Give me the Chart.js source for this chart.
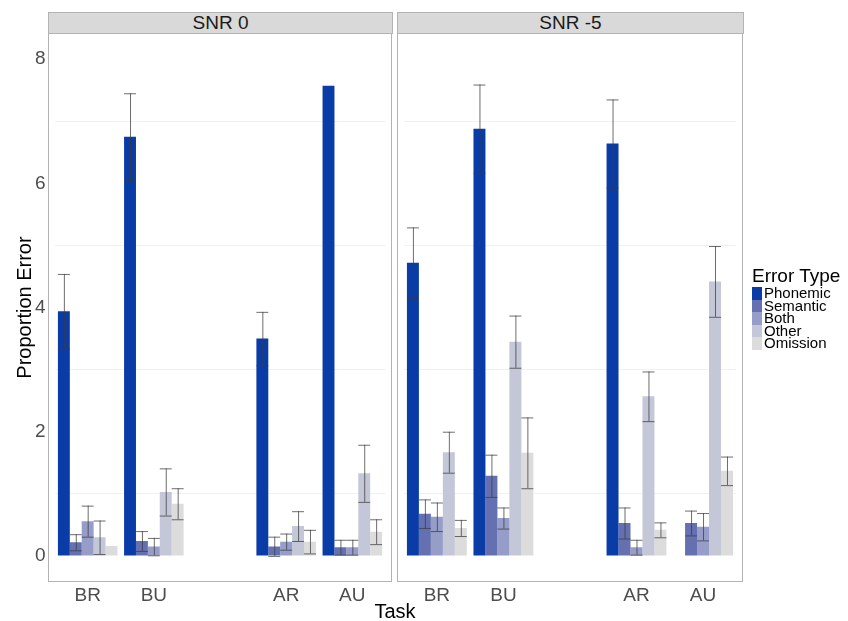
<!DOCTYPE html>
<html lang="en">
<head>
<meta charset="UTF-8">
<title>Proportion Error by Task</title>
<script src="https://cdn.jsdelivr.net/npm/chart.js"></script>
<style>
    body { margin: 0; background: #fff; font-family: "Liberation Sans", Arial, sans-serif; }
    #wrap { position: relative; width: 848px; height: 621px; overflow: hidden; }
    canvas { position: absolute; top: 0; }
    .strip {
        position: absolute; top: 12px; height: 20px; line-height: 20px;
        background: #d9d9d9; border: 1px solid #b3b3b3; box-sizing: content-box;
        text-align: center; font-size: 19px; color: #1a1a1a;
    }
    #xtitle { position: absolute; top: 600px; left: 345px; width: 100px; text-align: center; font-size: 20px; color: #000; }
    #legend { position: absolute; left: 752px; top: 265px; }
    #legend .title { font-size: 19px; line-height: 22px; color: #000; }
    #legend .item { height: 12.6px; line-height: 12.6px; font-size: 15px; color: #000; white-space: nowrap; }
    #legend .box { display: inline-block; width: 10px; height: 12.6px; vertical-align: top; margin-right: 2px; }
</style>
</head>
<body>
<div id="wrap">
    <canvas id="left" width="400" height="621" style="left:0px"></canvas>
    <canvas id="right" width="400" height="621" style="left:395px"></canvas>
    <div class="strip" id="s0" style="left:48px; width:343px;">SNR 0</div>
    <div class="strip" id="s5" style="left:397px; width:345px;">SNR -5</div>
    <div id="xtitle">Task</div>
    <div id="legend"></div>
</div>
<script>
// data
const tasks = ['BR', 'BU', '', 'AR', 'AU'];
const errorTypes = ['Phonemic', 'Semantic', 'Both', 'Other', 'Omission'];
const colors = ['#0a3ca8', '#6570b0', '#969dc9', '#c4c7d8', '#dcdcdc'];
const yTicks = [0, 2, 4, 6, 8];

// SNR 0
const phonemic0 = [3.94, 6.75, null, 3.50, 7.57];
const semantic0 = [0.22, 0.24, null, 0.15, 0.14];
const both0     = [0.56, 0.15, null, 0.23, 0.14];
const other0    = [0.30, 1.03, null, 0.48, 1.33];
const omission0 = [0.16, 0.84, null, 0.23, 0.39];
const phonemicSe0 = [0.60, 0.70, null, 0.43, 0];
const semanticSe0 = [0.13, 0.16, null, 0.16, 0.12];
const bothSe0     = [0.25, 0.14, null, 0.13, 0.12];
const otherSe0    = [0.27, 0.38, null, 0.24, 0.46];
const omissionSe0 = [0, 0.25, null, 0.19, 0.20];

// SNR -5
const phonemic5 = [4.72, 6.88, null, 6.64, null];
const semantic5 = [0.68, 1.29, null, 0.53, 0.53];
const both5     = [0.63, 0.61, null, 0.14, 0.47];
const other5    = [1.67, 3.45, null, 2.57, 4.42];
const omission5 = [0.45, 1.66, null, 0.42, 1.37];
const phonemicSe5 = [0.57, 0.71, null, 0.71, null];
const semanticSe5 = [0.23, 0.34, null, 0.25, 0.20];
const bothSe5     = [0.23, 0.17, null, 0.12, 0.22];
const otherSe5    = [0.33, 0.42, null, 0.40, 0.57];
const omissionSe5 = [0.13, 0.57, null, 0.12, 0.23];

const snr0 = [phonemic0, semantic0, both0, other0, omission0];
const snr0Se = [phonemicSe0, semanticSe0, bothSe0, otherSe0, omissionSe0];
const snr5 = [phonemic5, semantic5, both5, other5, omission5];
const snr5Se = [phonemicSe5, semanticSe5, bothSe5, otherSe5, omissionSe5];

// error bars + panel border
const panelPlugin = {
    id: 'panel',
    beforeDraw(chart) {
        const a = chart.chartArea, c = chart.ctx;
        const ex = (a.right - a.left) / 5 * 0.1;
        c.save();
        c.strokeStyle = '#b3b3b3';
        c.lineWidth = 1;
        c.strokeRect(Math.round(a.left - ex) + 0.5, a.top + 0.5, Math.round(a.right - a.left + 2 * ex) - 1, a.bottom - a.top - 1);
        c.restore();
    },
    afterDatasetsDraw(chart) {
        const c = chart.ctx, y = chart.scales.y;
        const se = chart.options.plugins.panel.se;
        c.save();
        c.strokeStyle = 'rgba(60,60,60,0.75)';
        c.lineWidth = 1;
        chart.data.datasets.forEach((ds, i) => {
            chart.getDatasetMeta(i).data.forEach((bar, j) => {
                const v = ds.data[j], e = se[i][j];
                if (v == null || !e) return;
                const hw = bar.width / 2;
                const top = y.getPixelForValue(v + e), bot = y.getPixelForValue(Math.max(0, v - e));
                c.beginPath();
                c.moveTo(bar.x + 0.5, top); c.lineTo(bar.x + 0.5, bot);
                c.moveTo(bar.x - hw, top + 0.5); c.lineTo(bar.x + hw, top + 0.5);
                c.moveTo(bar.x - hw, bot + 0.5); c.lineTo(bar.x + hw, bot + 0.5);
                c.stroke();
            });
        });
        c.restore();
    }
};

function makePanel(id, series, se, showY, padding) {
    return new Chart(document.getElementById(id), {
        type: 'bar',
        data: {
            labels: tasks,
            datasets: errorTypes.map((name, i) => ({
                label: name,
                data: series[i],
                backgroundColor: colors[i],
                borderWidth: 0,
                categoryPercentage: 0.9,
                barPercentage: 1.0
            }))
        },
        options: {
            responsive: false,
            animation: false,
            layout: { padding: padding },
            plugins: {
                legend: { display: false },
                tooltip: { enabled: false },
                panel: { se: se }
            },
            scales: {
                x: {
                    grid: { display: false, drawTicks: false },
                    border: { display: false },
                    ticks: { color: '#4d4d4d', font: { size: 19, family: 'Liberation Sans' }, padding: 2 },
                    afterFit: s => { s.height = 39; }
                },
                y: {
                    display: showY ? true : 'auto',
                    min: -0.42,
                    max: 8.42,
                    border: { display: false },
                    grid: {
                        drawTicks: false,
                        color: ctx => (ctx.tick && ctx.tick.value % 2 === 1) ? '#f1f1f1' : 'rgba(0,0,0,0)'
                    },
                    afterBuildTicks: s => {
                        s.ticks = [];
                        for (let v = 0; v <= 8; v++) s.ticks.push({ value: v });
                    },
                    ticks: {
                        display: showY,
                        color: '#4d4d4d',
                        font: { size: 19, family: 'Liberation Sans' },
                        padding: 9,
                        callback: v => yTicks.includes(v) ? String(v) : ''
                    },
                    title: {
                        display: showY,
                        text: 'Proportion Error',
                        color: '#000',
                        font: { size: 20, family: 'Liberation Sans' },
                        padding: { top: 13, bottom: 0 }
                    },
                    afterFit: s => { s.width = showY ? 54.6 : 0; }
                }
            }
        },
        plugins: [panelPlugin]
    });
}

makePanel('left', snr0, snr0Se, true, { left: 0, right: 14.6, top: 33, bottom: 0 });
makePanel('right', snr5, snr5Se, false, { left: 8.6, right: 58.7, top: 33, bottom: 0 });

// legend
const lg = document.getElementById('legend');
lg.innerHTML = '<div class="title">Error Type</div>' + errorTypes.map((n, i) =>
    '<div class="item"><span class="box" style="background:' + colors[i] + '"></span>' + n + '</div>').join('');
</script>
</body>
</html>
